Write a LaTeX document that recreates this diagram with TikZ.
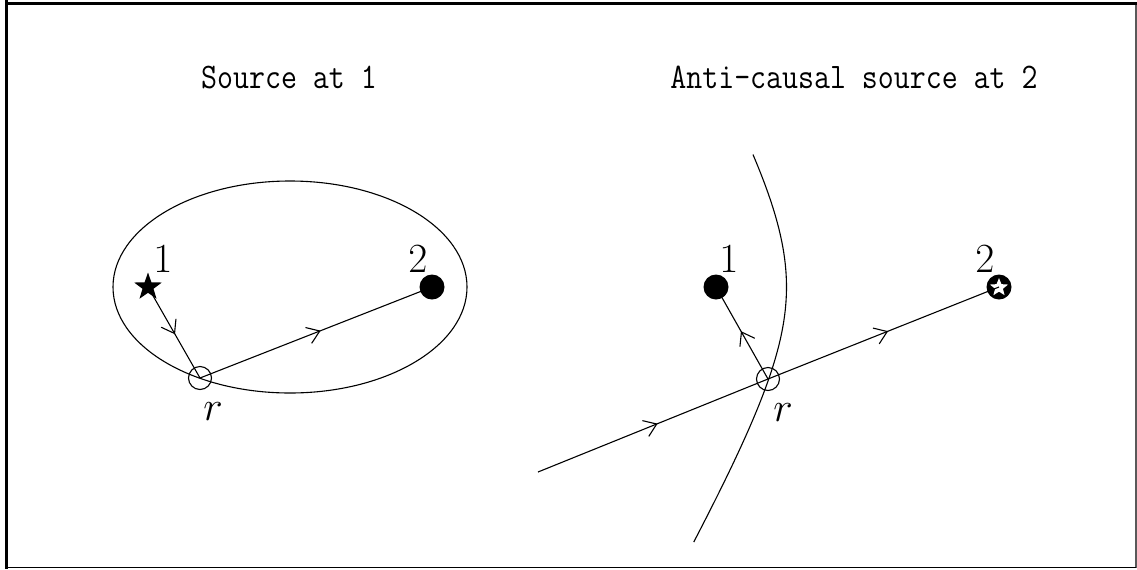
\documentclass[tikz,border=0pt]{standalone}
\usepackage{graphicx}
\usetikzlibrary{shapes.geometric,decorations.markings,arrows.meta}
\begin{document}
\begin{tikzpicture}[x=0.5pt,y=-0.5pt,
  thinline/.style={line width=0.55pt},
  midarrow/.style={thinline,postaction={decorate},decoration={markings,
      mark=at position 0.52 with {\arrow{Straight Barb[length=6pt,width=8.5pt,line width=0.55pt]}}}},
  title/.style={anchor=base,inner sep=0pt,font=\fontsize{15.5}{18}\ttfamily},
  lbl/.style={anchor=base,inner sep=0pt,font=\fontsize{21}{25}\selectfont},
  ring/.style={circle,draw,thinline,minimum size=11.5pt,inner sep=0pt},
  bdot/.style={circle,fill=black,minimum size=12.5pt,inner sep=0pt},
  bstar/.style={star,star points=5,star point ratio=2.5,fill=black,minimum size=14.5pt,inner sep=0pt},
  wstar/.style={star,star points=5,star point ratio=2.3,fill=white,minimum size=9.5pt,inner sep=0pt}]
\useasboundingbox (0,0) rectangle (1137,569);
% frame
\draw[line width=0.75pt,gray!70!black] (1136,3) -- (1136,567.5);
\draw[line width=0.75pt] (7,567.5) -- (1136,567.5);
\draw[line width=1.5pt] (6.5,0) -- (6.5,569);
\draw[line width=1.5pt] (6.5,3.5) -- (1137,3.5);
% titles
\node[title] (tL) at (289,88) {\scalebox{1}[1.16]{Source at 1}};
\node[title] (tR) at (854,88) {\scalebox{1}[1.16]{Anti{-}causal source at 2}};
% ---------- left panel ----------
\draw[thinline] (290,287) ellipse [x radius=177, y radius=106];
\node[bstar] (L1) at (148,287) {};
\node[bdot] (L2) at (432,287) {};
\node[ring] (Lr) at (200,378) {};
\node[lbl] (L1t) at (163,272) {$1$};
\node[lbl] (L2t) at (418,272) {$2$};
\node[lbl] (Lrt) at (213,420) {$r$};
\draw[midarrow] (L1.center) -- (Lr.center);
\draw[midarrow] (Lr.center) -- (L2.center);
% ---------- right panel ----------
\draw[thinline] plot[domain=-0.94:1.483,samples=90,variable=\t]
  ({857-70.5*cosh(\t)},{287+122.1*sinh(\t)});
\node[bdot] (R1) at (716,287) {};
\node[bdot] (R2) at (999,287) {};
\node[wstar] (R2s) at (999,287.5) {};
\node[ring] (Rr) at (768,379) {};
\coordinate (Rin) at (538,472);
\node[lbl] (R1t) at (729,272) {$1$};
\node[lbl] (R2t) at (985,272) {$2$};
\node[lbl] (Rrt) at (783,421) {$r$};
\draw[midarrow] (Rin) -- (Rr.center);
\draw[midarrow] (Rr.center) -- (R2.center);
\draw[midarrow] (Rr.center) -- (R1.center);
\end{tikzpicture}
\end{document}
